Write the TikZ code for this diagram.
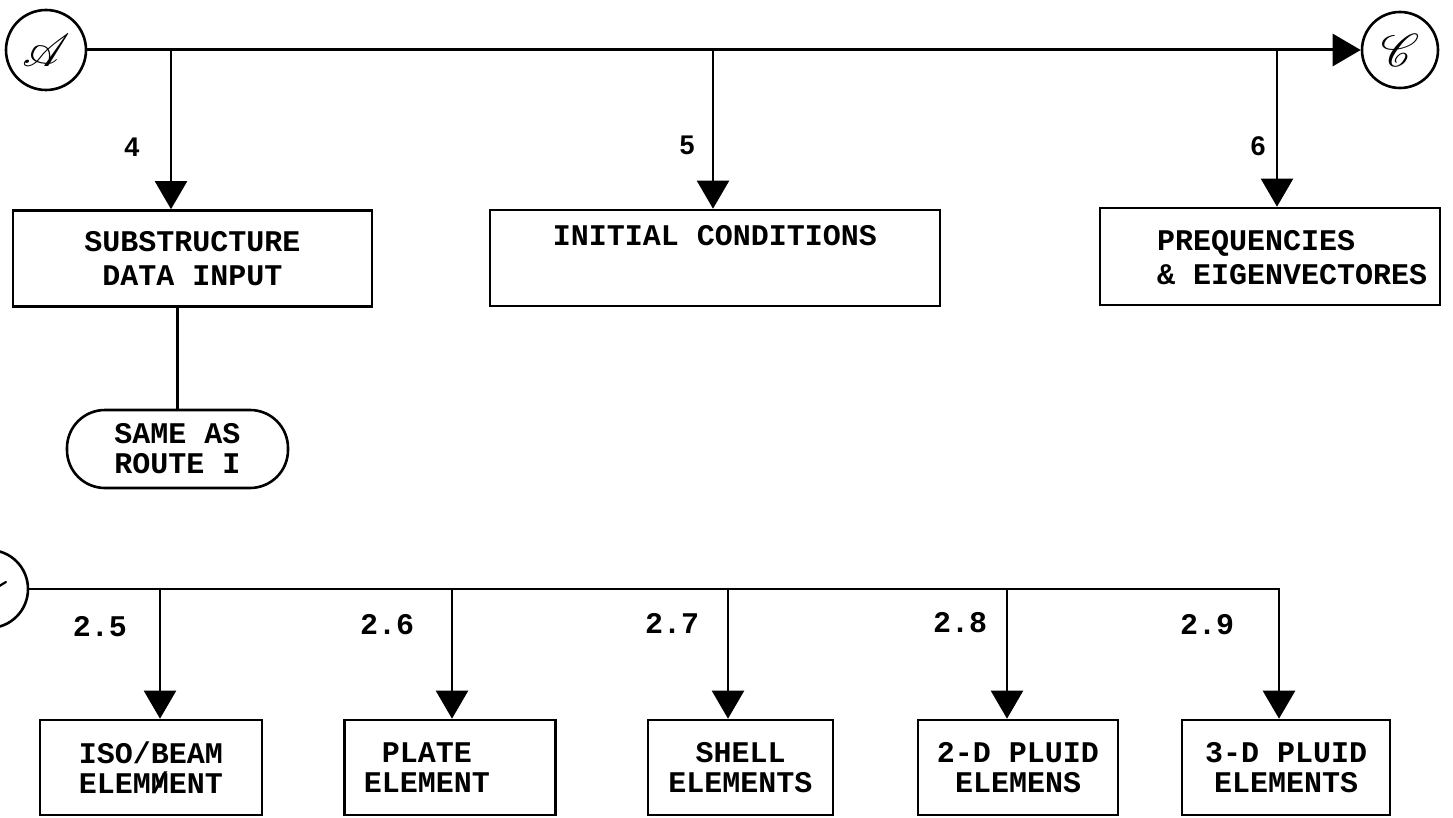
\documentclass[tikz,border=0pt]{standalone}
\usepackage{fontspec}
\setmainfont{Liberation Mono}
\newfontfamily\labfont{Liberation Sans}
\usepackage{mathrsfs}
\usetikzlibrary{arrows.meta}
\newcommand\mytxt{\fontsize{30}{34}\selectfont\bfseries}
\newcommand\mytxtb{\fontsize{30}{30}\selectfont\bfseries}
\begin{document}
\begin{tikzpicture}[x=1pt,y=-1pt,
  box/.style={draw,line width=2.6pt,minimum height=96pt,inner sep=0pt,align=center,font=\mytxt},
  bbox/.style={draw,line width=2.6pt,minimum height=95pt,inner sep=0pt,align=center,font=\mytxtb},
  circ/.style={draw,circle,line width=2.6pt,inner sep=0pt},
  bus/.style={line width=3pt},
  branch/.style={line width=2.2pt},
  arr/.style={-{Triangle[width=32pt,length=28pt]}},
  lab/.style={font=\labfont\fontsize{27}{27}\selectfont\bfseries,inner sep=0pt},
  num/.style={font=\mytxtb,inner sep=0pt}]
\useasboundingbox (0,0) rectangle (1453,818);

% top row
\node[circ,minimum size=80pt] (A) at (46,50) {\scalebox{4.6}{$\mathscr{A}$}};
\node[circ,minimum size=76pt] (C) at (1400,50) {\scalebox{4.6}{$\mathscr{C}$}};
\draw[bus,arr] (A) -- (C);

\node[box,minimum width=359pt] (sub) at (192.5,258.5) {SUBSTRUCTURE\\DATA INPUT};
\node[box,minimum width=450pt] (init) at (715,258) {INITIAL CONDITIONS\\\strut};
\node[box,minimum width=340pt,minimum height=97pt] (freq) at (1270,256.5) {};
\node[anchor=west,inner sep=0pt,align=left,font=\mytxt] (freqtxt) at (1157,257.5) {PREQUENCIES\\\& EIGENVECTORES};
\node[draw,line width=2.6pt,rounded corners=38pt,minimum width=221pt,minimum height=78pt,inner sep=0pt,align=center,font=\mytxtb] (same) at (177.5,449) {SAME AS\\ROUTE I};

\coordinate (t4) at (171,50);
\coordinate (t5) at (713,50);
\coordinate (t6) at (1277,50);
\draw[branch,arr] (t4) -- (t4 |- sub.north);
\draw[branch,arr] (t5) -- (t5 |- init.north);
\draw[branch,arr] (t6) -- (t6 |- freq.north);
\draw[branch] (sub.south -| same.north) -- (same.north);

\node[lab] (l4) at (132,147) {4};
\node[lab] (l5) at (687,145) {5};
\node[lab] (l6) at (1258,146) {6};

% bottom row
\node[circ,minimum size=78pt] (B) at (-11,589) {};
\draw[line width=2.2pt,line cap=round] ([xshift=-9pt,yshift=-4pt]B.center) .. controls ([xshift=2pt,yshift=-4pt]B.center) and ([xshift=8pt,yshift=2pt]B.center) .. ([xshift=17pt,yshift=7pt]B.center);
\node[bbox,minimum width=222pt] (iso) at (151,767.5) {ISO/BEAM\\ELEM\rlap{M}/ENT};
\node[bbox,minimum width=211pt] (plate) at (450,767.5) {PLATE\hspace*{46pt}\\ELEMENT\hspace*{46pt}};
\node[bbox,minimum width=185pt] (shell) at (740.5,767.5) {SHELL\\ELEMENTS};
\node[bbox,minimum width=200pt] (fl2) at (1018,767.5) {2-D PLUID\\ELEMENS};
\node[bbox,minimum width=208pt] (fl3) at (1286,767.5) {3-D PLUID\\ELEMENTS};

\coordinate (s5) at (160,589);
\coordinate (s6) at (452,589);
\coordinate (s7) at (728,589);
\coordinate (s8) at (1007,589);
\coordinate (s9) at (1279,589);
\draw[line width=2.8pt,arr] (B.east) -- (s9) -- (s9 |- fl3.north);
\draw[branch,arr] (s5) -- (s5 |- iso.north);
\draw[branch,arr] (s6) -- (s6 |- plate.north);
\draw[branch,arr] (s7) -- (s7 |- shell.north);
\draw[branch,arr] (s8) -- (s8 |- fl2.north);

\node[num] (n25) at (100,627) {2.5};
\node[num] (n26) at (387,625) {2.6};
\node[num] (n27) at (672,623) {2.7};
\node[num] (n28) at (960,623) {2.8};
\node[num] (n29) at (1207,625) {2.9};
\end{tikzpicture}
\end{document}
